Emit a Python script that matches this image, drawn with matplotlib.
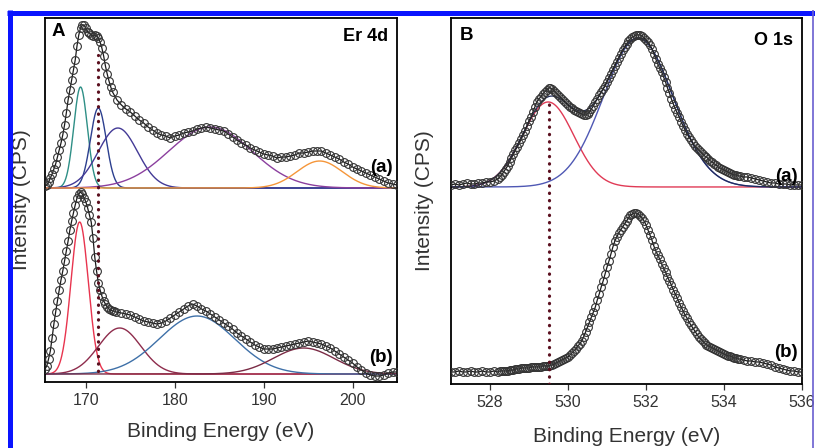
import numpy as np
import matplotlib
matplotlib.use("Agg")
import matplotlib.pyplot as plt
from matplotlib.lines import Line2D

plt.rcParams["font.family"] = ["Liberation Sans", "DejaVu Sans"]

# ---- Er 4d, panel A (intensities in arbitrary units above each baseline) ----
er_energy_a = np.round(np.concatenate([np.arange(165.4, 173.01, 0.2),
                                       np.arange(173.5, 205.01, 0.5)]), 2)
er_int_a = [2, 3, 6, 10, 14, 19, 24, 31, 38, 45,
            53, 63, 75, 88, 98, 108, 118, 128, 142, 153,
            160, 163, 163, 160, 156, 155, 153, 152, 153, 152,
            150, 146, 140, 132, 122, 114, 107, 101, 96,
            88, 83, 79, 76, 72, 68, 65, 61, 58, 55,
            53, 52, 50, 52, 53, 55, 56, 57, 59, 60,
            61, 60, 59, 58, 57, 54, 51, 48, 45, 43,
            40, 38, 36, 34, 33, 32, 30, 31, 31, 32,
            33, 35, 35, 36, 37, 37, 37, 35, 33, 31,
            29, 26, 24, 21, 19, 17, 15, 13, 11, 9,
            7, 5, 4, 3]

er_energy_b = np.round(np.concatenate([np.arange(165.4, 173.41, 0.2),
                                       np.arange(174.0, 205.01, 0.5)]), 2)
er_int_b = [5, 8, 15, 23, 36, 50, 62, 73, 84, 94,
            103, 113, 123, 133, 144, 153, 161, 169, 176, 180,
            182, 180, 176, 172, 166, 159, 152, 136, 117, 103,
            91, 84, 78, 73, 70, 67, 65, 64, 63, 63,
            62,
            61, 60, 59, 57, 55, 53, 52, 51, 50, 51,
            53, 56, 59, 62, 65, 68, 70, 68, 65, 63,
            60, 57, 54, 51, 48, 45, 41, 38, 35, 32,
            29, 27, 25, 25, 25, 26, 27, 28, 29, 30,
            31, 32, 33, 32, 31, 30, 28, 26, 23, 20,
            17, 14, 11, 7, 4, 1, -1, -2, -2, -1,
            1, 2, 2]

# fitted components: centre (eV), height, FWHM (eV)
er_fit_a_center = [169.4, 171.4, 173.6, 184.0, 196.3]
er_fit_a_height = [101, 80, 60, 61, 27]
er_fit_a_fwhm = [1.8, 2.1, 5.2, 11.0, 6.0]
er_fit_a_color = ["#2e8f86", "#2c3f8f", "#433a96", "#8b3f9e", "#f5963a"]

er_fit_b_center = [169.3, 173.8, 182.5, 194.5]
er_fit_b_height = [152, 46, 58, 26]
er_fit_b_fwhm = [2.3, 5.6, 10.0, 8.0]
er_fit_b_color = ["#e8344e", "#8e2c4c", "#3e70a8", "#7a2b45"]

# ---- O 1s, panel B ----
o_energy = np.round(np.concatenate([np.arange(527.0, 528.15, 0.1),
                                    np.arange(528.2, 534.41, 0.05),
                                    np.arange(534.5, 536.01, 0.1)]), 2)
o_int_a = [2, 3, 2, 3, 4, 3, 3, 4, 4, 5, 5, 6,
           8, 10, 12, 15, 18, 21, 25, 29, 33, 37,
           40, 44, 48, 52, 56, 61, 66, 70, 75, 80,
           85, 88, 90, 93, 95, 97, 99, 99, 98, 96,
           94, 92, 90, 88, 86, 84, 82, 80, 79, 77,
           76, 75, 74, 73, 72, 72, 73, 75, 78, 81,
           85, 88, 92, 95, 98, 101, 105, 109, 113, 117,
           121, 125, 129, 133, 137, 140, 143, 146, 148, 150,
           151, 152, 152, 152, 151, 149, 147, 145, 142, 138,
           133, 128, 123, 119, 115, 110, 105, 99, 94, 88,
           83, 78, 74, 70, 65, 61, 57, 53, 50, 47,
           44, 41, 39, 37, 35, 33, 31, 30, 28, 26,
           25, 23, 22, 20, 19, 18, 17, 16, 15, 14,
           13, 12, 12, 11, 11,
           10, 10, 9, 8, 7, 6, 5, 4, 4, 3, 3, 3, 2, 2, 2, 2]
o_int_b = [0, 0, 1, 0, 0, 1, 0, 0, 1, 0, 0, 1,
           0, 1, 1, 1, 1, 1, 2, 2, 2, 3,
           3, 3, 4, 4, 4, 4, 4, 5, 5, 5,
           5, 5, 5, 6, 6, 6, 6, 7, 7, 8,
           9, 10, 11, 12, 13, 14, 15, 17, 19, 21,
           23, 26, 28, 31, 35, 40, 45, 50, 55, 60,
           65, 72, 78, 85, 91, 98, 105, 111, 118, 125,
           131, 135, 139, 142, 145, 148, 151, 154, 157, 158,
           159, 159, 158, 156, 154, 151, 147, 142, 137, 132,
           126, 121, 117, 113, 108, 104, 100, 95, 91, 87,
           82, 78, 74, 69, 65, 61, 57, 54, 50, 47,
           44, 41, 38, 35, 33, 31, 29, 27, 26, 25,
           24, 23, 22, 21, 20, 19, 18, 17, 16, 16,
           15, 14, 14, 13, 13,
           12, 11, 11, 10, 10, 9, 8, 7, 5, 4, 3, 2, 1, 1, 0, 0]

o_fit_a_center = [529.49, 531.8]
o_fit_a_height = [85, 149]
o_fit_a_fwhm = [1.55, 2.1]
o_fit_a_color = ["#e03a55", "#4f58b4"]

er_offset = [194, 8]     # baselines of (a) and (b)
o_offset = [197, 12]
er_marker_line = 171.4
o_marker_line = 529.5


def gauss(x, c, h, w):
    return h * np.exp(-4 * np.log(2) * (x - c) ** 2 / w ** 2)


def draw_data(ax, x, y, base, line=False):
    ax.plot(x, np.asarray(y) + base, "-" if line else "none", color="#1a1a1a",
            lw=0.9, marker="o", ms=5.6, mfc="none", mec="#333333", mew=0.8,
            zorder=3)


def draw_fits(ax, grid, base, centers, heights, widths, colors):
    for c, h, w, col in zip(centers, heights, widths, colors):
        ax.plot(grid, gauss(grid, c, h, w) + base, color=col, lw=1.0, zorder=2)


def style(ax, xlim, ylim, xticks, ylabel_pad, xlabel_pad):
    ax.set_xlim(*xlim)
    ax.set_ylim(*ylim)
    ax.set_xticks(xticks)
    ax.set_yticks([])
    ax.tick_params(axis="x", direction="out", length=4, width=0.9,
                   labelsize=11.5, pad=4, colors="#333333")
    for s in ax.spines.values():
        s.set_linewidth(1.3)
    ax.set_xlabel("Binding Energy (eV)", fontsize=15, labelpad=xlabel_pad,
                  color="#333333")
    ax.set_ylabel("Intensity (CPS)", fontsize=15, labelpad=ylabel_pad,
                  color="#333333")


fig = plt.figure(figsize=(8.15, 4.48), dpi=100)
axA = fig.add_axes([0.0552, 0.1473, 0.4319, 0.8125])
axB = fig.add_axes([0.5534, 0.1429, 0.4307, 0.8170])

# panel A
gA = np.linspace(165.4, 205.0, 800)
draw_fits(axA, gA, er_offset[0], er_fit_a_center, er_fit_a_height,
          er_fit_a_fwhm, er_fit_a_color)
draw_fits(axA, gA, er_offset[1], er_fit_b_center, er_fit_b_height,
          er_fit_b_fwhm, er_fit_b_color)
draw_data(axA, er_energy_a, er_int_a, er_offset[0])
draw_data(axA, er_energy_b, er_int_b, er_offset[1])
axA.plot([er_marker_line, er_marker_line], [11, 327], color="#5a0f1e",
         lw=2.3, linestyle=(0, (0.1, 2.2)), dash_capstyle="round", zorder=4)
style(axA, (165.4, 205.0), (0, 364), [170, 180, 190, 200], 10, 10)
axA.text(0.02, 0.985, "A", transform=axA.transAxes, fontsize=13.5,
         fontweight="bold", ha="left", va="top")
axA.text(0.975, 0.972, "Er 4d", transform=axA.transAxes, fontsize=13,
         fontweight="bold", ha="right", va="top")
axA.text(0.989, 0.59, "(a)", transform=axA.transAxes, fontsize=13.5,
         fontweight="bold", ha="right", va="center")
axA.text(0.989, 0.066, "(b)", transform=axA.transAxes, fontsize=13.5,
         fontweight="bold", ha="right", va="center")

# panel B
gB = np.linspace(527.0, 536.0, 800)
draw_fits(axB, gB, o_offset[0], o_fit_a_center, o_fit_a_height,
          o_fit_a_fwhm, o_fit_a_color)
env = sum(gauss(gB, c, h, w) for c, h, w in
          zip(o_fit_a_center, o_fit_a_height, o_fit_a_fwhm))
axB.plot(gB, env + o_offset[0], color="#1f2a5a", lw=0.9, zorder=2)
draw_data(axB, o_energy, o_int_a, o_offset[0])
draw_data(axB, o_energy, o_int_b, o_offset[1], line=True)
axB.plot([o_marker_line, o_marker_line], [0, 282], color="#5a0f1e",
         lw=2.3, linestyle=(0, (0.1, 2.2)), dash_capstyle="round", zorder=4)
style(axB, (527.0, 536.0), (0, 366), [528, 530, 532, 534, 536], 12, 12.5)
axB.text(0.026, 0.975, "B", transform=axB.transAxes, fontsize=13.5,
         fontweight="bold", ha="left", va="top")
axB.text(0.974, 0.962, "O 1s", transform=axB.transAxes, fontsize=13,
         fontweight="bold", ha="right", va="top")
axB.text(0.989, 0.568, "(a)", transform=axB.transAxes, fontsize=13.5,
         fontweight="bold", ha="right", va="center")
axB.text(0.989, 0.087, "(b)", transform=axB.transAxes, fontsize=13.5,
         fontweight="bold", ha="right", va="center")

# blue frame of the figure
fig.add_artist(Line2D([0.0086, 1.0], [0.972, 0.972], transform=fig.transFigure,
                      color="#0a14ff", lw=3.6, solid_capstyle="butt"))
fig.add_artist(Line2D([0.0117, 0.0117], [0.0, 0.977], transform=fig.transFigure,
                      color="#0a14ff", lw=3.6, solid_capstyle="butt"))
fig.add_artist(Line2D([0.998, 0.998], [0.0, 0.977], transform=fig.transFigure,
                      color="#6a5fd0", lw=1.2, solid_capstyle="butt"))

fig.savefig("out.png", dpi=100)
